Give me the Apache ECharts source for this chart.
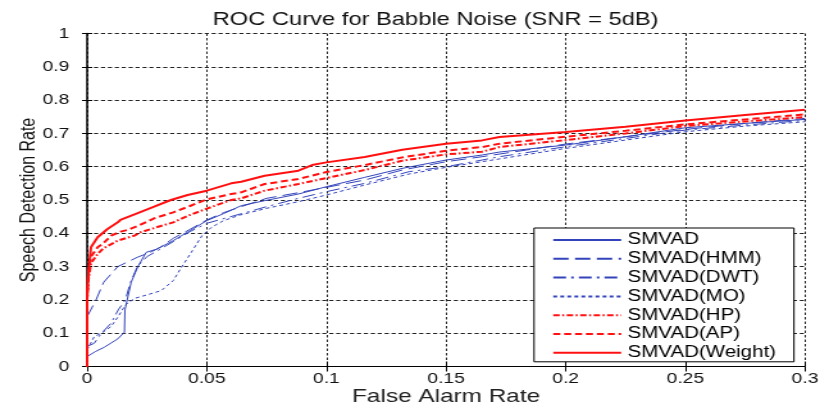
<!DOCTYPE html>
<html><head><meta charset="utf-8">
<script src="https://cdn.jsdelivr.net/npm/echarts@6/dist/echarts.min.js"></script>
<style>
html,body{margin:0;padding:0;background:#fff;overflow:hidden;width:820px;height:407px}
#wrap{width:820px;height:407px;overflow:hidden}
#c{width:640px;height:407px;transform:scaleX(1.28125);transform-origin:0 0}
</style>
</head><body><div id="wrap"><div id="c"></div></div>
<script>
// ---- data ----
const titleText = 'ROC Curve for Babble Noise (SNR = 5dB)';
const xName = 'False Alarm Rate';
const yName = 'Speech Detection Rate';
const xTicks = ['0', '0.05', '0.1', '0.15', '0.2', '0.25', '0.3'];
const yTicks = ['0', '0.1', '0.2', '0.3', '0.4', '0.5', '0.6', '0.7', '0.8', '0.9', '1'];
const seriesNames = ['SMVAD', 'SMVAD(HMM)', 'SMVAD(DWT)', 'SMVAD(MO)', 'SMVAD(HP)', 'SMVAD(AP)', 'SMVAD(Weight)'];

const smvad = [[0,0.03],[0.0035,0.045],[0.0072,0.058],[0.0128,0.083],[0.0156,0.103],[0.0158,0.17],[0.0184,0.253],[0.0212,0.30],[0.0247,0.343],[0.029,0.352],[0.036,0.378],[0.043,0.408],[0.05,0.438],[0.057,0.459],[0.0644,0.483],[0.0742,0.498],[0.0883,0.518],[0.1,0.54],[0.116,0.568],[0.1317,0.595],[0.15,0.62],[0.165,0.635],[0.1723,0.644],[0.2,0.665],[0.225,0.69],[0.25,0.717],[0.275,0.73],[0.3,0.742]];
const smvadHMM = [[0,0.15],[0.0036,0.198],[0.0069,0.253],[0.0128,0.30],[0.021,0.328],[0.027,0.345],[0.031,0.36],[0.036,0.385],[0.043,0.412],[0.05,0.44],[0.057,0.462],[0.0644,0.48],[0.075,0.505],[0.0883,0.522],[0.1,0.538],[0.116,0.56],[0.1317,0.59],[0.15,0.615],[0.165,0.63],[0.2,0.668],[0.225,0.69],[0.25,0.712],[0.275,0.73],[0.3,0.745]];
const smvadDWT = [[0,0.06],[0.003,0.07],[0.006,0.1],[0.01,0.13],[0.013,0.17],[0.016,0.2],[0.018,0.25],[0.021,0.3],[0.025,0.33],[0.03,0.35],[0.036,0.375],[0.043,0.405],[0.05,0.43],[0.06,0.45],[0.075,0.48],[0.0883,0.505],[0.1,0.525],[0.116,0.55],[0.1345,0.585],[0.15,0.6],[0.165,0.62],[0.1723,0.63],[0.2,0.66],[0.225,0.685],[0.25,0.71],[0.275,0.725],[0.3,0.739]];
const smvadMO = [[0,0.05],[0.003,0.09],[0.006,0.1],[0.01,0.12],[0.013,0.15],[0.016,0.185],[0.02,0.205],[0.025,0.215],[0.031,0.228],[0.036,0.258],[0.039,0.293],[0.044,0.348],[0.048,0.393],[0.052,0.418],[0.057,0.438],[0.064,0.455],[0.075,0.475],[0.0883,0.495],[0.1,0.515],[0.116,0.545],[0.1345,0.578],[0.15,0.598],[0.165,0.615],[0.2,0.655],[0.225,0.68],[0.25,0.705],[0.275,0.722],[0.3,0.735]];
const smvadHP = [[0,0],[0,0.2],[0.0005,0.26],[0.0016,0.31],[0.0044,0.338],[0.0068,0.355],[0.0128,0.378],[0.0198,0.393],[0.0223,0.403],[0.029,0.418],[0.036,0.433],[0.043,0.455],[0.05,0.474],[0.0602,0.5],[0.0644,0.505],[0.0742,0.528],[0.0883,0.548],[0.1,0.566],[0.116,0.59],[0.1317,0.618],[0.15,0.637],[0.165,0.645],[0.1723,0.659],[0.2,0.68],[0.225,0.70],[0.25,0.722],[0.275,0.736],[0.3,0.749]];
const smvadAP = [[0,0],[0,0.2],[0.0005,0.28],[0.0016,0.33],[0.0044,0.358],[0.0068,0.37],[0.01,0.393],[0.014,0.405],[0.0168,0.41],[0.0221,0.425],[0.028,0.445],[0.036,0.463],[0.043,0.482],[0.05,0.502],[0.0602,0.518],[0.0644,0.523],[0.0742,0.548],[0.0883,0.563],[0.1,0.584],[0.116,0.605],[0.1317,0.628],[0.15,0.648],[0.165,0.659],[0.1723,0.669],[0.2,0.69],[0.225,0.708],[0.25,0.727],[0.275,0.742],[0.3,0.757]];
const smvadWeight = [[0,0],[0,0.22],[0.0008,0.30],[0.0016,0.358],[0.0044,0.388],[0.0085,0.413],[0.0128,0.433],[0.0139,0.44],[0.0209,0.46],[0.028,0.48],[0.035,0.50],[0.042,0.515],[0.05,0.528],[0.0602,0.55],[0.0644,0.555],[0.0742,0.573],[0.0883,0.588],[0.094,0.605],[0.1,0.613],[0.116,0.629],[0.1317,0.651],[0.15,0.669],[0.165,0.679],[0.1723,0.689],[0.2,0.704],[0.225,0.72],[0.25,0.739],[0.275,0.755],[0.3,0.771]];

// ---- chart ----
const FONT = '"Liberation Sans", Arial, sans-serif';
const BLUE = '#3344bb';
const RED = '#ff1010';
const seriesData = [smvad, smvadHMM, smvadDWT, smvadMO, smvadHP, smvadAP, smvadWeight];
const styles = [
  {color: BLUE, width: 1, type: 'solid'},
  {color: BLUE, width: 1, type: [12, 5]},
  {color: BLUE, width: 1, type: [10, 4, 2, 4]},
  {color: BLUE, width: 1, type: [3, 2.5]},
  {color: RED, width: 2, type: [5, 2, 1.5, 2]},
  {color: RED, width: 2, type: [5.5, 3]},
  {color: RED, width: 2, type: 'solid'}
];

const chart = echarts.init(document.getElementById('c'), null, {renderer: 'canvas'});
const gridLine = (t) => ({show: true, lineStyle: {color: '#222', width: 1, type: t}});
chart.setOption({
  animation: false,
  backgroundColor: '#fff',
  title: {
    text: titleText, left: 161, top: 5,
    textStyle: {fontFamily: FONT, fontSize: 18.5, fontWeight: 'normal', color: '#111'}
  },
  grid: {left: 68, right: 11.7, top: 33.5, bottom: 40.5, containLabel: false, outerBoundsMode: 'none'},
  legend: {
    data: seriesNames, orient: 'vertical', left: 416.8, top: 228,
    itemWidth: 53, itemHeight: 14, itemGap: 2.8,
    padding: [4, 14, 1, 14],
    borderColor: '#000', borderWidth: 1, backgroundColor: '#fff',
    itemStyle: {color: 'rgba(0,0,0,0)', borderColor: 'rgba(0,0,0,0)', borderWidth: 0, opacity: 0},
    textStyle: {fontFamily: FONT, fontSize: 16, color: '#000', lineHeight: 14.6},
    z: 10
  },
  xAxis: [{
    type: 'value', min: 0, max: 0.3, interval: 0.05,
    name: xName, nameLocation: 'middle', nameGap: 21, nameMoveOverlap: false,
    nameTextStyle: {fontFamily: FONT, fontSize: 19, color: '#222'},
    axisLine: {show: true, onZero: false, lineStyle: {color: '#000', width: 1.2}},
    axisTick: {show: true, inside: true, length: 5, lineStyle: {color: '#000'}},
    axisLabel: {fontFamily: FONT, fontSize: 15, color: '#111', margin: 5,
      formatter: (v) => xTicks[Math.round(v / 0.05)]},
    splitLine: gridLine([2.5, 2])
  }, {
    type: 'value', min: 0, max: 0.3, interval: 0.05, position: 'top',
    axisLine: {show: false}, axisLabel: {show: false}, splitLine: {show: false},
    axisTick: {show: true, inside: true, length: 5, lineStyle: {color: '#000'}}
  }],
  yAxis: [{
    type: 'value', min: 0, max: 1, interval: 0.1,
    name: yName, nameLocation: 'middle', nameGap: 37, nameMoveOverlap: false,
    nameTextStyle: {fontFamily: FONT, fontSize: 16, color: '#111'},
    axisLine: {show: true, onZero: false, lineStyle: {color: '#000', width: 1.5}},
    axisTick: {show: true, inside: true, length: 4, lineStyle: {color: '#000'}},
    axisLabel: {fontFamily: FONT, fontSize: 15, color: '#111', margin: 14,
      formatter: (v) => yTicks[Math.round(v * 10)]},
    splitLine: gridLine([3.2, 2.2])
  }, {
    type: 'value', min: 0, max: 1, interval: 0.1, position: 'right',
    axisLine: {show: false}, axisLabel: {show: false}, splitLine: {show: false},
    axisTick: {show: true, inside: true, length: 4, lineStyle: {color: '#000'}}
  }],
  series: seriesNames.map((n, i) => ({
    name: n, type: 'line', xAxisIndex: 0, yAxisIndex: 0,
    data: seriesData[i], symbol: 'none', showSymbol: false, smooth: false,
    color: styles[i].color,
    lineStyle: {color: styles[i].color, width: styles[i].width, type: styles[i].type},
    z: 3 + i
  }))
});
</script>
</body></html>
